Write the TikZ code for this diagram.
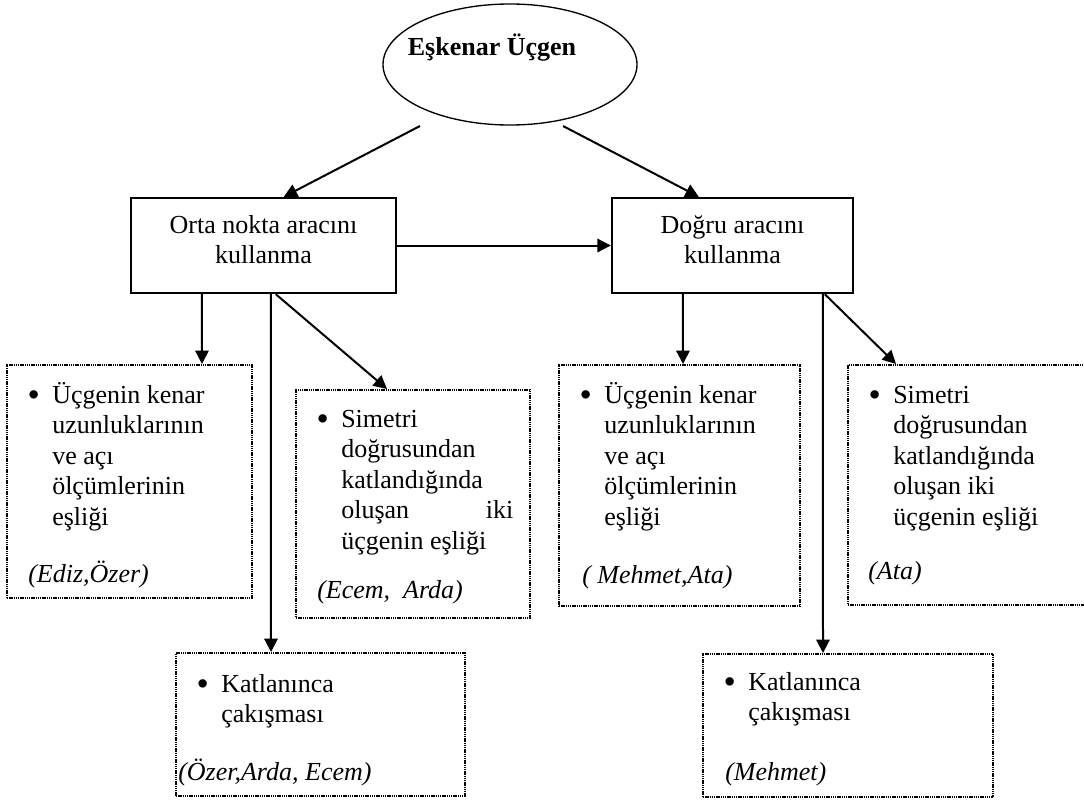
\documentclass[tikz,border=0pt]{standalone}
\usepackage{fontspec}
\setmainfont{Liberation Serif}
\usetikzlibrary{arrows.meta,calc,fit,shapes.geometric}
\newcommand{\fl}{\rule{0pt}{18pt}}
\newcommand{\bul}{\llap{\raisebox{-2.3pt}{\scalebox{1.35}{\textbullet}}\hspace{9.3pt}}}
\newcommand{\bodysize}{\fontsize{19.5pt}{22.9pt}\selectfont}
\tikzset{
  solidbox/.style={draw, line width=1.8pt, inner sep=0pt},
  dotbox/.style={draw, line width=1.5pt, dash pattern=on 1.1pt off 0.55pt, inner sep=0pt},
  arr/.style={line width=1.5pt, -{Triangle[length=10pt,width=10pt]}},
  txt/.style={font=\bodysize, inner sep=0pt, align=left, anchor=north west},
  ctxt/.style={font=\bodysize, inner sep=0pt, align=center, anchor=north},
  who/.style={font=\bodysize\itshape, inner sep=0pt, anchor=base west}
}
\begin{document}
\begin{tikzpicture}[x=0.75pt,y=-0.75pt]
    \useasboundingbox (0,0) rectangle (1084,800);

    % Top ellipse
    \node[ellipse, draw, line width=1pt, inner sep=0pt, minimum width=190.5pt, minimum height=90.75pt] (top) at (510,64.5) {};
    \node[font=\bodysize\bfseries, anchor=base, inner sep=0pt] (title) at (492,55) {Eşkenar Üçgen};

    % Tool boxes
    \node[solidbox, fit={(131,198) (396,293)}] (orta) {};
    \node[ctxt] (ortatext) at (263.5,209) {\fl Orta nokta aracını\\kullanma};
    \node[solidbox, fit={(612,198) (853,293)}] (dogru) {};
    \node[ctxt] (dogrutext) at (732.5,209) {\fl Doğru aracını\\kullanma};

    % Observation boxes, left
    \node[dotbox, fit={(7,365) (252,598)}] (b1) {};
    \node[txt] (b1text) at (52,379) {\fl\bul Üçgenin kenar\\uzunluklarının\\ve açı\\ölçümlerinin\\eşliği};
    \node[who] (b1who) at (28,582) {(Ediz,Özer)};

    \node[dotbox, fit={(296,390) (530,618)}] (b2) {};
    \node[txt] (b2text) at (341,403) {\fl\bul Simetri\\doğrusundan\\katlandığında\\\makebox[129pt][s]{oluşan iki}\\üçgenin eşliği};
    \node[who] (b2who) at (317,598) {(Ecem,\ \ Arda)};

    \node[dotbox, fit={(176,653) (465,796)}] (b3) {};
    \node[txt] (b3text) at (221,668) {\fl\bul Katlanınca\\çakışması};
    \node[who] (b3who) at (178,780) {(Özer,Arda, Ecem)};

    % Observation boxes, right
    \node[dotbox, fit={(559,365) (800,606)}] (b4) {};
    \node[txt] (b4text) at (604,379) {\fl\bul Üçgenin kenar\\uzunluklarının\\ve açı\\ölçümlerinin\\eşliği};
    \node[who] (b4who) at (582,583) {( Mehmet,Ata)};

    \node[dotbox, fit={(848,365) (1092,605)}] (b5) {};
    \node[txt] (b5text) at (893,379) {\fl\bul Simetri\\doğrusundan\\katlandığında\\oluşan iki\\üçgenin eşliği};
    \node[who] (b5who) at (868,579) {(Ata)};

    \node[dotbox, fit={(703,654) (993,797)}] (b6) {};
    \node[txt] (b6text) at (748,666) {\fl\bul Katlanınca\\çakışması};
    \node[who] (b6who) at (725,780) {(Mehmet)};

    % Arrows
    \coordinate (topl) at (420,126);
    \coordinate (topr) at (563,126);
    \draw[arr] (topl) -- ($(orta.north west)+(154,0)$);
    \draw[arr] (topr) -- ($(dogru.north west)+(88,0)$);
    \draw[arr] (orta.east) -- (dogru.west);

    \draw[arr] ($(orta.south west)+(72,0)$) -- ($(b1.north west)+(196,0)$);
    \draw[arr] ($(orta.south west)+(141,0)$) -- ($(b3.north west)+(96,0)$);
    \draw[arr] ($(orta.south west)+(146,0)$) -- ($(b2.north west)+(92,0)$);

    \draw[arr] ($(dogru.south west)+(72,0)$) -- ($(b4.north west)+(125,0)$);
    \draw[arr] ($(dogru.south west)+(212,0)$) -- ($(b6.north west)+(121,0)$);
    \draw[arr] ($(dogru.south west)+(214,0)$) -- ($(b5.north west)+(49,0)$);
\end{tikzpicture}
\end{document}
